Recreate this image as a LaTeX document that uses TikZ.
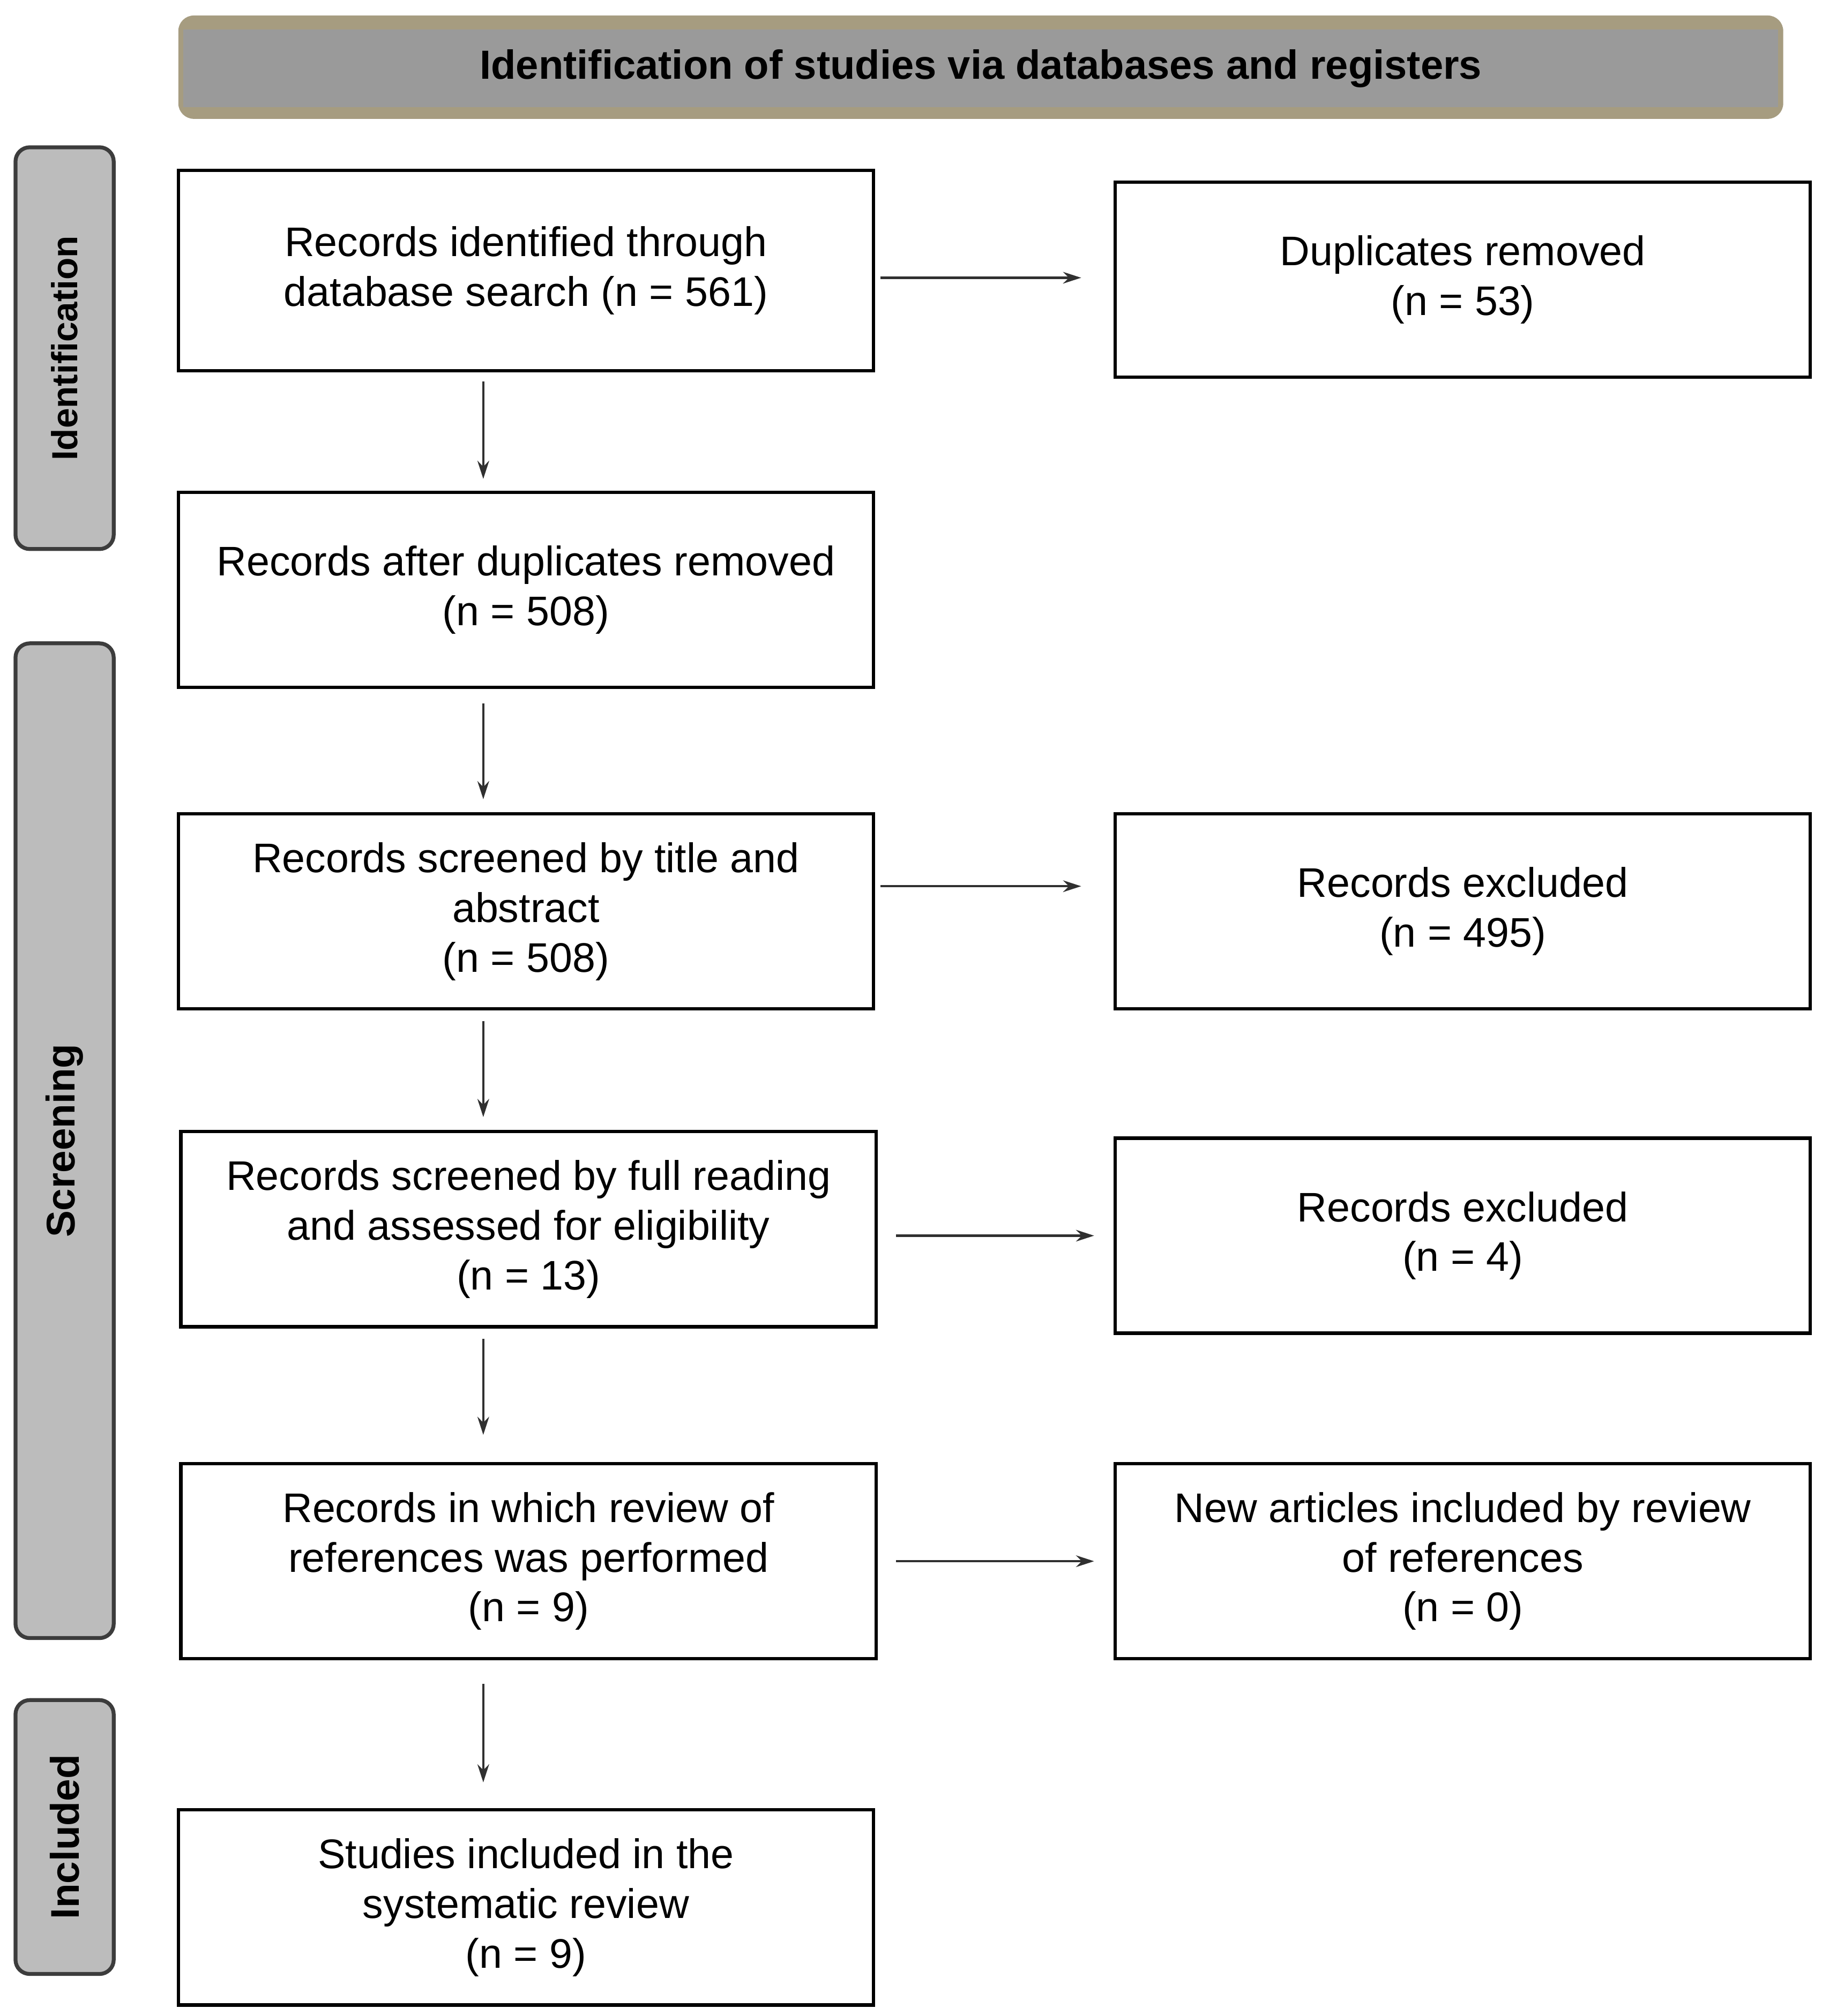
\documentclass[tikz,border=0pt]{standalone}
\usepackage{fontspec}
\setmainfont{Liberation Sans}
\usetikzlibrary{arrows.meta,calc}
\definecolor{hdrfill}{HTML}{9A9A9A}
\definecolor{hdrtan}{HTML}{A69C80}
\definecolor{sidefill}{HTML}{BCBCBC}
\definecolor{sidedraw}{HTML}{3C3C3C}
\definecolor{arrcol}{HTML}{303030}
\begin{document}
\begin{tikzpicture}[x=1pt,y=-1pt,
  flowbox/.style={draw=black, line width=2.6pt, fill=white, minimum width=538pt, minimum height=151pt, inner sep=0pt, align=center, font=\fontsize{32}{38.5}\selectfont},
  sidebox/.style={draw=sidedraw, line width=3pt, fill=sidefill, rounded corners=11pt, rotate=90, minimum height=76pt, inner sep=0pt, font=\bfseries\fontsize{31}{36}\selectfont},
  arr/.style={draw=arrcol, line width=1.9pt, -{Stealth[length=14pt,width=9pt]}}
]
\useasboundingbox (0,0) rectangle (1410,1560.55);
\fill[white] (0,0) rectangle (1410,1560.55);

% header
\node[fill=hdrtan, rounded corners=12pt, minimum width=1242pt, minimum height=80pt, inner sep=0pt] (hdr) at (759,52) {};
\node[fill=hdrfill, minimum width=1234pt, minimum height=60pt, inner sep=0pt, font=\bfseries\fontsize{31.5}{38}\selectfont] (hdrtext) at (759,53) {Identification of studies via databases and registers};

% side labels
\node[sidebox, minimum width=311pt, font=\bfseries\fontsize{28}{34}\selectfont] (sid) at (50,269.5) {Identification};
\node[sidebox, minimum width=770pt] (ssc) at (50,883) {Screening};
\node[sidebox, minimum width=212pt] (sin) at (50,1422) {Included};

% left column
\node[flowbox, minimum height=155pt] (b1) at (407,209.5) {Records identified through\\database search (n = 561)};
\node[flowbox] (b2) at (407,456.5) {Records after duplicates removed\\(n = 508)};
\node[flowbox] (b3) at (407,705.5) {Records screened by title and\\abstract\\(n = 508)};
\node[flowbox] (b4) at (409,951.5) {Records screened by full reading\\and assessed for eligibility\\(n = 13)};
\node[flowbox] (b5) at (409,1208.5) {Records in which review of\\references was performed\\(n = 9)};
\node[flowbox] (b6) at (407,1476.5) {Studies included in the\\systematic review\\(n = 9)};

% right column
\node[flowbox] (r1) at (1132,216.5) {Duplicates removed\\(n = 53)};
\node[flowbox] (r2) at (1132,705.5) {Records excluded\\(n = 495)};
\node[flowbox] (r3) at (1132,956.5) {Records excluded\\(n = 4)};
\node[flowbox] (r4) at (1132,1208.5) {New articles included by review\\of references\\(n = 0)};

% horizontal arrows
\draw[arr, shorten <=4pt, shorten >=25pt] ([yshift=1.5pt]b1.east |- r1.west) -- ([yshift=1.5pt]r1.west);
\draw[arr, shorten <=4pt, shorten >=25pt] ([yshift=19.5pt]b3.east) -- ([yshift=19.5pt]r2.west);
\draw[arr, shorten <=14pt, shorten >=15pt] (b4.east |- r3.west) -- (r3.west);
\draw[arr, shorten <=14pt, shorten >=15pt] (b5.east) -- (r4.west);

% vertical arrows
\draw[arr, shorten <=7pt, shorten >=9pt] ([xshift=-33pt]b1.south) -- ([xshift=-33pt]b2.north);
\draw[arr, shorten <=11pt, shorten >=10pt] ([xshift=-33pt]b2.south) -- ([xshift=-33pt]b3.north);
\draw[arr, shorten <=8pt, shorten >=10pt] ([xshift=-33pt]b3.south) -- ([xshift=-35pt]b4.north);
\draw[arr, shorten <=8pt, shorten >=21pt] ([xshift=-35pt]b4.south) -- ([xshift=-35pt]b5.north);
\draw[arr, shorten <=18pt, shorten >=20pt] ([xshift=-35pt]b5.south) -- ([xshift=-33pt]b6.north);
\end{tikzpicture}
\end{document}
